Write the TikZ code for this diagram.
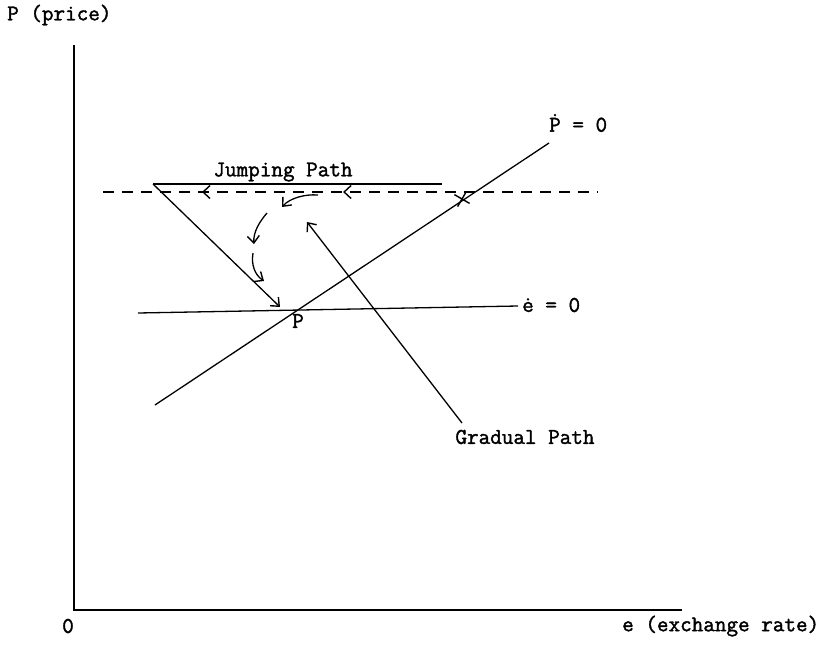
\documentclass[tikz,border=0pt]{standalone}
\usepackage{fontspec}
\newfontfamily\typew{Latin Modern Mono}[FakeBold=1.6]
\usetikzlibrary{arrows.meta,decorations.markings,shapes.misc}
\begin{document}
\begin{tikzpicture}[x=1pt,y=-1pt,
  lbl/.style={font=\typew\fontsize{22.5}{24}\selectfont, inner sep=0pt},
  ln/.style={line width=1.3pt},
  ax/.style={line width=2.4pt},
  tipped/.style={-{Straight Barb[length=7pt,width=12pt,line width=1.4pt]}},
  cross/.style={cross out, draw, line width=1.4pt, minimum size=11pt, inner sep=0pt, rotate=15},
]
\useasboundingbox (0,0) rectangle (829,645);
% axes
\coordinate (Ytop) at (74,45);
\coordinate (O) at (74,610);
\coordinate (Xend) at (682,610);
\draw[ax] (Ytop) -- (O) -- (Xend);
\node[lbl, anchor=west] (ylab) at (7,15) {P (price)};
\node[lbl] (zero) at (68,626) {0};
\node[lbl, anchor=west] (xlab) at (622,626) {e (exchange rate)};
% Pdot = 0 line
\coordinate (PL) at (155,405);
\coordinate (PR) at (549,143);
\draw[ln] (PL) -- (PR);
\node[lbl, anchor=west] (pdot) at (549,123) {\accent"02D9 P = 0};
% edot = 0 line
\coordinate (EL) at (138,313);
\coordinate (ER) at (518,306);
\draw[ln] (EL) -- (ER);
\node[lbl, anchor=west] (edot) at (522,305) {\.{e} = 0};
\node[lbl] (plab) at (298,321) {P};
% dashed line with arrows
\coordinate (DL) at (103,192);
\coordinate (DR) at (598,192);
\draw[ln, line width=1.9pt, dash pattern=on 11pt off 8pt, postaction={decorate},
  decoration={markings,
    mark=at position 0.2 with {\arrowreversed{Straight Barb[length=7pt,width=13pt,line width=1.4pt]}},
    mark=at position 0.485 with {\arrowreversed{Straight Barb[length=7pt,width=13pt,line width=1.4pt]}}}]
  (DL) -- (DR);
\node[cross] (X1) at (462,199) {};
% jumping path
\coordinate (JL) at (153,184);
\coordinate (JR) at (442,184);
\draw[ln] (JL) -- (JR);
\node[lbl] (jump) at (283,172) {Jumping Path};
\coordinate (DiagEnd) at (280,307);
\draw[ln, tipped] (JL) -- (DiagEnd);
% curved arrows
\coordinate (C1a) at (318,195);
\coordinate (C1b) at (282,207);
\draw[ln, tipped] (C1a) .. controls (305,194) and (290,198) .. (C1b);
\coordinate (C2a) at (267,213);
\coordinate (C2b) at (254,244);
\draw[ln, tipped] (C2a) .. controls (260,221) and (253,232) .. (C2b);
\coordinate (C3a) at (253,253);
\coordinate (C3b) at (264,281);
\draw[ln, tipped] (C3a) .. controls (251,265) and (255,275) .. (C3b);
% gradual path
\coordinate (GS) at (462,423);
\coordinate (GE) at (307,222);
\draw[ln, tipped] (GS) -- (GE);
\node[lbl] (grad) at (525,437) {Gradual Path};
\end{tikzpicture}
\end{document}
